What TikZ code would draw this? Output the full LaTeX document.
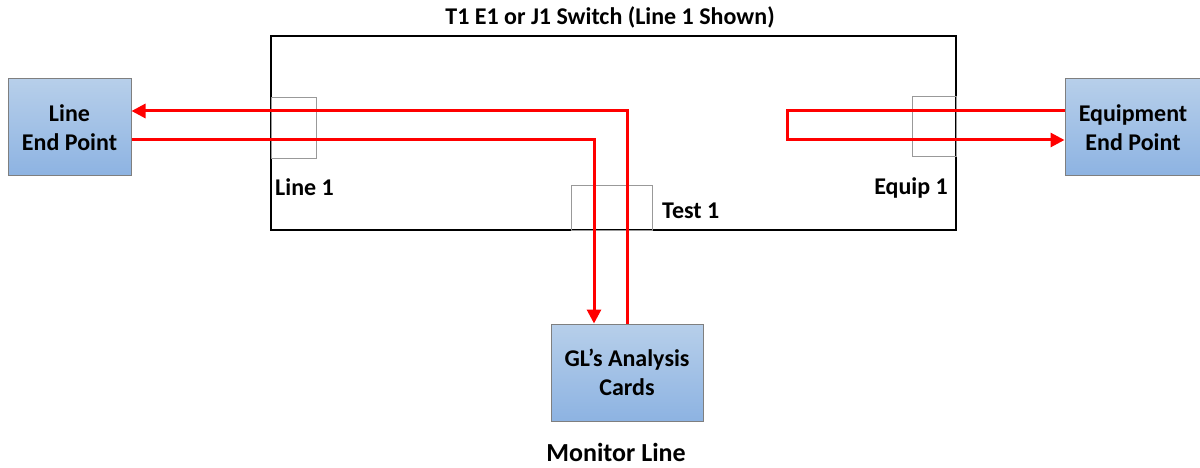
\documentclass[tikz,border=0pt]{standalone}
\usepackage{fontspec}
\setmainfont{Carlito}
\usetikzlibrary{arrows.meta}
\definecolor{boxtop}{HTML}{B7CFEA}
\definecolor{boxbot}{HTML}{8DB3E2}
\definecolor{boxedge}{HTML}{7F7F7F}
\definecolor{sigred}{HTML}{FF0000}
\tikzset{
  endbox/.style={draw=boxedge, line width=1pt, top color=boxtop, bottom color=boxbot,
    align=center, inner sep=0pt},
  port/.style={draw=boxedge!80, line width=0.8pt},
  sig/.style={draw=sigred, line width=3pt},
  sigarr/.style={sig, -{Triangle[length=14pt,width=14pt]}},
  lbl/.style={font=\bfseries\fontsize{24}{29}\selectfont, inner sep=0pt},
}
\begin{document}
\begin{tikzpicture}[x=1pt,y=-1pt, font=\bfseries\fontsize{24}{29}\selectfont]
\useasboundingbox (0,0) rectangle (1200,468);
% switch body
\node[draw, line width=2.8pt, minimum width=685pt, minimum height=194pt, inner sep=0pt] (sw) at (613.5,133) {};
\node[lbl] (title) at (610,17) {T1 E1 or J1 Switch (Line 1 Shown)};
% ports
\node[port, minimum width=45pt, minimum height=61pt, inner sep=0pt] (p1) at (293.5,127.5) {};
\node[port, minimum width=44pt, minimum height=60pt, inner sep=0pt] (pe) at (934,126) {};
\node[port, minimum width=81pt, minimum height=45pt, inner sep=0pt] (pt) at (611.5,207.5) {};
\node[lbl, anchor=west] (l1) at (275,187) {Line 1};
\node[lbl] (le) at (911,188) {Equip 1};
\node[lbl, anchor=west] (lt) at (662,211) {Test 1};
% end boxes
\node[endbox, minimum width=123pt, minimum height=97pt] (lep) at (69.5,127.5) {Line\\End Point};
\node[endbox, minimum width=136pt, minimum height=97pt] (eep) at (1133,127.5) {Equipment\\End Point};
\node[endbox, minimum width=152pt, minimum height=97pt] (gl) at (627,372.5) {GL’s Analysis\\Cards};
\node[lbl, font=\bfseries\fontsize{26}{30}\selectfont] (mon) at (616,452) {Monitor Line};
% signals
\coordinate (ta) at (787,111);
\coordinate (tb) at (787,140);
\draw[sigarr] (gl.north) |- ([yshift=16.5pt]lep.east);
\draw[sigarr] ([yshift=-12.5pt]lep.east) -| ([xshift=-33pt]gl.north);
\draw[sigarr] ([yshift=16.5pt]eep.west) -- (ta) -- (tb) -- ([yshift=-12.5pt]eep.west);
\end{tikzpicture}
\end{document}
